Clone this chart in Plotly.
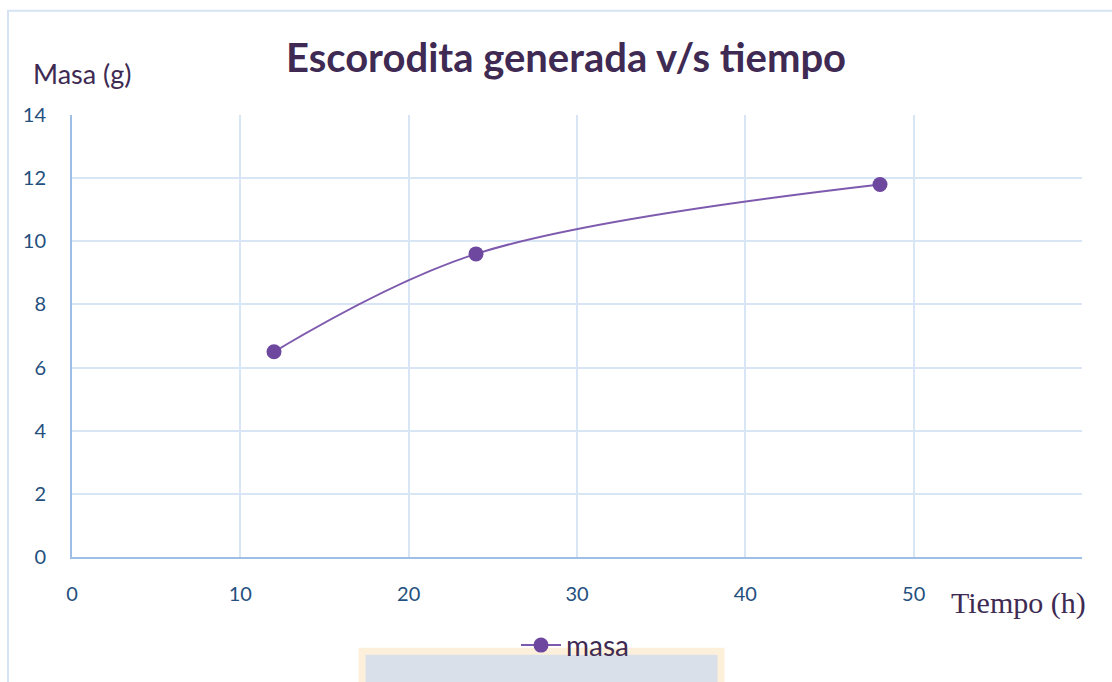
import plotly.graph_objects as go

# Data
tiempo = [12, 24, 48]
masa = [6.5, 9.6, 11.8]
x_ticks = [0, 10, 20, 30, 40, 50, 60]
x_ticktext = ["0", "10", "20", "30", "40", "50", ""]
y_ticks = [0, 2, 4, 6, 8, 10, 12, 14]

W, H = 1112, 682
L, R, T, B = 72, 1082, 115, 560


def px(x):
    return (x - L) / (R - L)


def py(y):
    return (B - y) / (B - T)


fig = go.Figure()
fig.add_trace(go.Scatter(
    x=tiempo, y=masa, mode="lines+markers", name="masa",
    line=dict(color="#7e5aae", width=2, shape="spline", smoothing=1.0),
    marker=dict(color="#6e479f", size=15),
))

fig.update_layout(
    width=W, height=H,
    margin=dict(l=L, r=W - R, t=T, b=H - B),
    paper_bgcolor="white", plot_bgcolor="white",
    title=dict(text="<b>Escorodita generada v/s tiempo</b>",
               x=566 / W, y=1 - 58 / H, xanchor="center", yanchor="middle",
               font=dict(family="Lato", size=40, color="#3e2a52")),
    showlegend=True,
    legend=dict(orientation="h", x=px(575), y=py(649), xanchor="center", yanchor="middle",
                bgcolor="rgba(0,0,0,0)", font=dict(family="Lato", size=28, color="#3e2a52"),
                itemwidth=40),
    xaxis=dict(range=[0, 60], tickvals=x_ticks, ticktext=x_ticktext,
               showgrid=True, gridcolor="#d8e5f5", gridwidth=1.5,
               zeroline=False, showline=True, linecolor="#9dbfe6", linewidth=2,
               ticks="", ticklabelstandoff=18,
               tickfont=dict(family="Lato", size=20, color="#24507e")),
    yaxis=dict(range=[0, 14], tickvals=y_ticks,
               showgrid=True, gridcolor="#d8e5f5", gridwidth=1.5,
               zeroline=False, showline=True, linecolor="#9dbfe6", linewidth=2,
               ticks="", ticklabelstandoff=20,
               tickfont=dict(family="Lato", size=20, color="#24507e")),
    shapes=[
        dict(type="rect", xref="paper", yref="paper",
             x0=px(8), y0=py(700), x1=px(1125), y1=py(10),
             line=dict(color="#d5e3f5", width=2), fillcolor="rgba(0,0,0,0)", layer="below"),
        dict(type="rect", xref="paper", yref="paper",
             x0=px(362), y0=py(700), x1=px(721), y1=py(655),
             line=dict(color="#fdf0da", width=7), fillcolor="#dae0e9", layer="below"),
    ],
    annotations=[
        dict(text="Masa (g)", xref="paper", yref="paper", x=px(31), y=py(73),
             xanchor="left", yanchor="middle", showarrow=False,
             font=dict(family="Lato", size=27, color="#3e2a52")),
        dict(text="Tiempo (h)", xref="paper", yref="paper", x=px(1088), y=py(606),
             xanchor="right", yanchor="middle", showarrow=False,
             font=dict(family="Liberation Serif", size=30, color="#3e2a52")),
    ],
)

fig.write_html("out.html", config={"displayModeBar": False},
               post_script="document.body.style.margin='0px';document.body.style.overflow='hidden';")
